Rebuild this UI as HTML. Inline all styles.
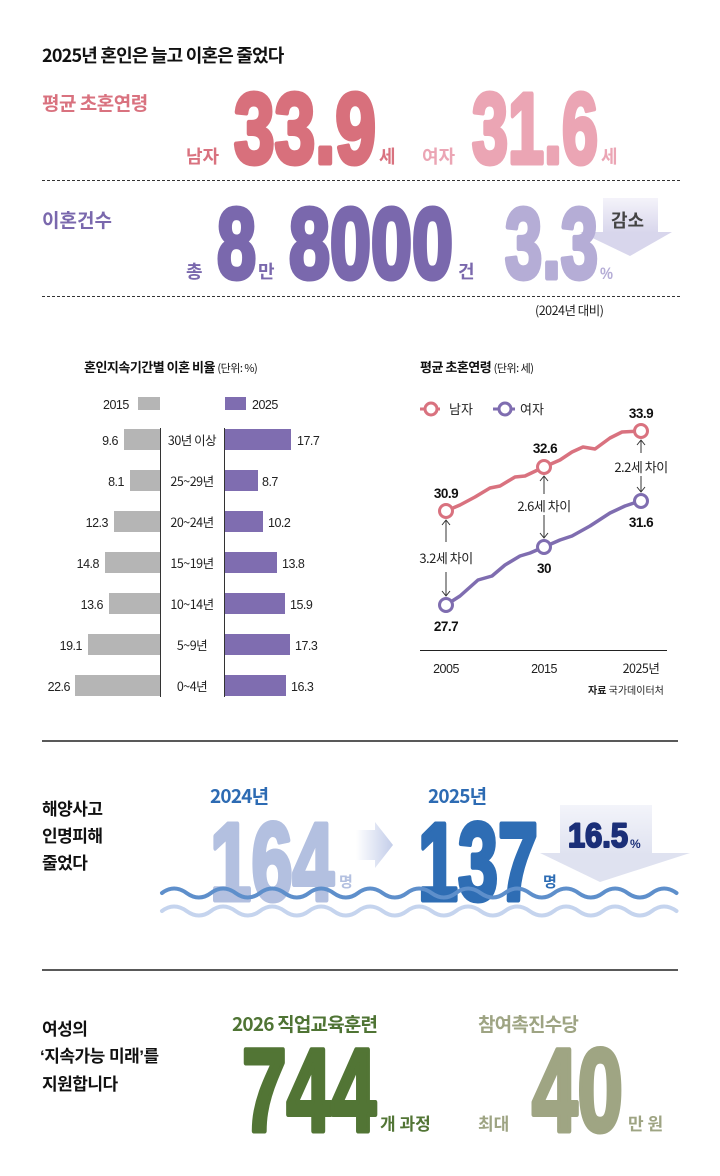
<!DOCTYPE html>
<html><head><meta charset="utf-8"><style>
html,body{margin:0;padding:0;background:#fff;}
svg{display:block;}
text{font-family:"Liberation Sans","Noto Sans CJK KR",sans-serif;}
.k{font-family:"Noto Sans CJK KR","Liberation Sans",sans-serif;}
.big{font-family:"Liberation Sans",sans-serif;font-weight:bold;stroke-width:5;stroke-linejoin:round;}
</style></head><body>
<svg width="720" height="1176" viewBox="0 0 720 1176" xmlns="http://www.w3.org/2000/svg">
<defs>
<linearGradient id="ga" x1="0" y1="1" x2="0" y2="0"><stop offset="0" stop-color="#d8d6ec"/><stop offset="1" stop-color="#f4f3fa"/></linearGradient>
<linearGradient id="gb" x1="0" y1="1" x2="0" y2="0"><stop offset="0" stop-color="#dfe2f0"/><stop offset="1" stop-color="#f3f4fa"/></linearGradient>
<linearGradient id="gc" x1="0" y1="0" x2="1" y2="0"><stop offset="0" stop-color="#ffffff"/><stop offset="1" stop-color="#c3cde9"/></linearGradient>
</defs>

<text x="42" y="62" class="k" font-size="18" font-weight="bold" fill="#111" letter-spacing="-0.8">2025년 혼인은 늘고 이혼은 줄었다</text>

<text x="42" y="110" class="k" font-size="19" font-weight="bold" fill="#d9727f" letter-spacing="-0.5">평균 초혼연령</text>
<text x="186" y="163" class="k" font-size="18" font-weight="bold" fill="#d9727f">남자</text>
<text x="234" y="163" class="big" font-size="100" fill="#d8707c" stroke="#d8707c" textLength="142" lengthAdjust="spacingAndGlyphs">33.9</text>
<text x="379" y="163" class="k" font-size="18" font-weight="bold" fill="#d9727f">세</text>
<text x="422" y="163" class="k" font-size="18" font-weight="bold" fill="#eba5b4">여자</text>
<text x="472" y="163" class="big" font-size="100" fill="#eba5b4" stroke="#eba5b4" textLength="126" lengthAdjust="spacingAndGlyphs">31.6</text>
<text x="601" y="163" class="k" font-size="18" font-weight="bold" fill="#eba5b4">세</text>
<line x1="42" y1="180.5" x2="680" y2="180.5" stroke="#333" stroke-width="1" stroke-dasharray="3,2"/>

<text x="42" y="227" class="k" font-size="19" font-weight="bold" fill="#7a68ad">이혼건수</text>
<text x="186" y="278" class="k" font-size="18" font-weight="bold" fill="#7a68ad">총</text>
<text x="217" y="278" class="big" font-size="100" fill="#7a68ad" stroke="#7a68ad" textLength="39" lengthAdjust="spacingAndGlyphs">8</text>
<text x="258" y="278" class="k" font-size="18" font-weight="bold" fill="#7a68ad">만</text>
<text x="289" y="278" class="big" font-size="100" fill="#7a68ad" stroke="#7a68ad" textLength="164" lengthAdjust="spacingAndGlyphs">8000</text>
<text x="458" y="278" class="k" font-size="18" font-weight="bold" fill="#7a68ad">건</text>
<rect x="603" y="198" width="55" height="35" fill="url(#ga)"/>
<polygon points="580,232 672,232 630,256" fill="#d8d6ec"/>
<text x="505" y="278" class="big" font-size="100" fill="#b5add6" stroke="#b5add6" textLength="93" lengthAdjust="spacingAndGlyphs">3.3</text>
<text x="600" y="279" class="big" font-size="17" fill="#b5add6" stroke="none" textLength="13" lengthAdjust="spacingAndGlyphs">%</text>
<text x="611" y="227" class="k" font-size="18" font-weight="bold" fill="#444">감소</text>
<line x1="42" y1="296.5" x2="680" y2="296.5" stroke="#333" stroke-width="1" stroke-dasharray="3,2"/>
<text x="535" y="315" class="k" font-size="12.5" fill="#222" letter-spacing="-0.5">(2024년 대비)</text>

<text x="84" y="372" class="k" font-size="13" font-weight="bold" fill="#111" letter-spacing="-0.5">혼인지속기간별 이혼 비율 <tspan font-weight="normal" font-size="11">(단위: %)</tspan></text>
<text x="103" y="409" font-size="12.5" fill="#222" letter-spacing="-0.5">2015</text>
<rect x="138" y="397" width="22" height="13" fill="#b5b5b5"/>
<rect x="225" y="397" width="21" height="13" fill="#7f6db0"/>
<text x="252" y="409" font-size="12.5" fill="#222" letter-spacing="-0.5">2025</text>
<line x1="160.5" y1="428" x2="160.5" y2="697" stroke="#333" stroke-width="1"/>
<line x1="224.5" y1="428" x2="224.5" y2="697" stroke="#333" stroke-width="1"/>
<g font-size="12.5" fill="#222" letter-spacing="-0.5">
<rect x="124" y="429" width="36" height="21" fill="#b5b5b5"/><rect x="225" y="429" width="66" height="21" fill="#7f6db0"/>
<text x="118" y="445" text-anchor="end">9.6</text><text x="297" y="445">17.7</text><text x="192" y="445" text-anchor="middle" class="k">30년 이상</text>
<rect x="130" y="470" width="30" height="21" fill="#b5b5b5"/><rect x="225" y="470" width="33" height="21" fill="#7f6db0"/>
<text x="124" y="486" text-anchor="end">8.1</text><text x="262" y="486">8.7</text><text x="192" y="486" text-anchor="middle" class="k">25~29년</text>
<rect x="114" y="511" width="46" height="21" fill="#b5b5b5"/><rect x="225" y="511" width="38" height="21" fill="#7f6db0"/>
<text x="108" y="527" text-anchor="end">12.3</text><text x="268" y="527">10.2</text><text x="192" y="527" text-anchor="middle" class="k">20~24년</text>
<rect x="105" y="552" width="55" height="21" fill="#b5b5b5"/><rect x="225" y="552" width="52" height="21" fill="#7f6db0"/>
<text x="99" y="568" text-anchor="end">14.8</text><text x="282" y="568">13.8</text><text x="192" y="568" text-anchor="middle" class="k">15~19년</text>
<rect x="109" y="593" width="51" height="21" fill="#b5b5b5"/><rect x="225" y="593" width="60" height="21" fill="#7f6db0"/>
<text x="103" y="609" text-anchor="end">13.6</text><text x="290" y="609">15.9</text><text x="192" y="609" text-anchor="middle" class="k">10~14년</text>
<rect x="88" y="634" width="72" height="21" fill="#b5b5b5"/><rect x="225" y="634" width="65" height="21" fill="#7f6db0"/>
<text x="82" y="650" text-anchor="end">19.1</text><text x="295" y="650">17.3</text><text x="192" y="650" text-anchor="middle" class="k">5~9년</text>
<rect x="75" y="675" width="85" height="21" fill="#b5b5b5"/><rect x="225" y="675" width="61" height="21" fill="#7f6db0"/>
<text x="70" y="691" text-anchor="end">22.6</text><text x="291" y="691">16.3</text><text x="192" y="691" text-anchor="middle" class="k">0~4년</text>
</g>

<text x="420" y="372" class="k" font-size="13" font-weight="bold" fill="#111" letter-spacing="-0.5">평균 초혼연령 <tspan font-weight="normal" font-size="11">(단위: 세)</tspan></text>
<line x1="420" y1="409" x2="440" y2="409" stroke="#d9727f" stroke-width="3"/>
<circle cx="431" cy="409" r="6" fill="#fff" stroke="#d9727f" stroke-width="3"/>
<text x="449" y="414" class="k" font-size="13" fill="#222">남자</text>
<line x1="493" y1="409" x2="515" y2="409" stroke="#7f6db0" stroke-width="3"/>
<circle cx="505" cy="409" r="6" fill="#fff" stroke="#7f6db0" stroke-width="3"/>
<text x="520" y="414" class="k" font-size="13" fill="#222">여자</text>
<polyline fill="none" stroke="#d9727f" stroke-width="3.5" stroke-linejoin="round" points="446,511 460,505 475,497 490,488 500,486 515,477 525,476 544,467 560,460 572,452 583,447 595,449 610,438 622,432 640,431"/>
<polyline fill="none" stroke="#7f6db0" stroke-width="3.5" stroke-linejoin="round" points="446,605 460,596 478,580 492,576 505,565 520,556 530,553 544,547 560,540 572,536 590,526 610,513 625,506 640,501"/>
<g fill="#fff" stroke-width="3">
<circle cx="446" cy="511" r="6.5" stroke="#d9727f"/><circle cx="544" cy="467" r="6.5" stroke="#d9727f"/><circle cx="641" cy="431" r="6.5" stroke="#d9727f"/>
<circle cx="446" cy="605" r="6.5" stroke="#7f6db0"/><circle cx="544" cy="547" r="6.5" stroke="#7f6db0"/><circle cx="641" cy="501" r="6.5" stroke="#7f6db0"/>
</g>
<g stroke="#333" stroke-width="1" fill="none">
<line x1="446" y1="520" x2="446" y2="542"/><polyline points="442,525 446,520 450,525"/>
<line x1="446" y1="572" x2="446" y2="596"/><polyline points="442,591 446,596 450,591"/>
<line x1="544" y1="476" x2="544" y2="494"/><polyline points="540,481 544,476 548,481"/>
<line x1="544" y1="515" x2="544" y2="538"/><polyline points="540,533 544,538 548,533"/>
<line x1="641" y1="440" x2="641" y2="453"/><polyline points="637,445 641,440 645,445"/>
<line x1="641" y1="476" x2="641" y2="492"/><polyline points="637,487 641,492 645,487"/>
</g>
<g font-size="13" fill="#222" text-anchor="middle" letter-spacing="-0.5">
<text x="446" y="563" class="k">3.2세 차이</text>
<text x="544" y="511" class="k">2.6세 차이</text>
<text x="641" y="472" class="k">2.2세 차이</text>
</g>
<g font-size="13.5" font-weight="bold" fill="#111" text-anchor="middle" letter-spacing="-0.5">
<text x="446" y="498">30.9</text><text x="545" y="453">32.6</text><text x="641" y="418">33.9</text>
<text x="446" y="631">27.7</text><text x="544" y="573">30</text><text x="641" y="527">31.6</text>
</g>
<line x1="420" y1="650.5" x2="667" y2="650.5" stroke="#222" stroke-width="1"/>
<g font-size="12.5" fill="#222" text-anchor="middle" letter-spacing="-0.5">
<text x="446" y="673">2005</text><text x="544" y="673">2015</text><text x="641" y="673" class="k">2025년</text>
</g>
<text x="588" y="694" class="k" font-size="10" fill="#222"><tspan font-weight="bold">자료</tspan> 국가데이터처</text>

<line x1="42" y1="741" x2="678" y2="741" stroke="#222" stroke-width="1.5"/>

<g class="k" font-size="17" font-weight="bold" fill="#111" letter-spacing="-0.5">
<text x="42" y="815">해양사고</text><text x="42" y="842">인명피해</text><text x="42" y="869">줄었다</text>
</g>
<text x="210" y="803" class="k" font-size="19" font-weight="bold" fill="#2d6bb3" letter-spacing="-0.8">2024년</text>
<text x="428" y="803" class="k" font-size="19" font-weight="bold" fill="#2d6bb3" letter-spacing="-0.8">2025년</text>
<text x="210" y="900" class="big" font-size="110" fill="#b3c0e0" stroke="#b3c0e0" textLength="124" lengthAdjust="spacingAndGlyphs">164</text>
<text x="339" y="887" class="k" font-size="15" font-weight="bold" fill="#b3c0e0">명</text>
<polygon points="356,830 375,830 375,822 393,845 375,868 375,860 356,860" fill="url(#gc)"/>
<rect x="560" y="805" width="92" height="50" fill="url(#gb)"/>
<polygon points="540,853 690,853 600,882" fill="#dfe2f0"/>
<text x="418" y="900" class="big" font-size="110" fill="#2e6db4" stroke="#2e6db4" textLength="120" lengthAdjust="spacingAndGlyphs">137</text>
<text x="543" y="887" class="k" font-size="15" font-weight="bold" fill="#2e6db4">명</text>
<text x="568" y="847" class="big" font-size="34" fill="#1b2f78" stroke="#1b2f78" style="stroke-width:2" textLength="60" lengthAdjust="spacingAndGlyphs">16.5</text>
<text x="630" y="848" class="big" font-size="12" fill="#1b2f78" stroke="none">%</text>
<path d="M162,893 q12,-9 24.5,0 t24.5,0 t24.5,0 t24.5,0 t24.5,0 t24.5,0 t24.5,0 t24.5,0 t24.5,0 t24.5,0 t24.5,0 t24.5,0 t24.5,0 t24.5,0 t24.5,0 t24.5,0 t24.5,0 t24.5,0 t24.5,0 t24.5,0 t24.5,0" fill="none" stroke="#5e8fcb" stroke-width="4" stroke-linecap="round"/>
<path d="M162,911 q12,-9 24.5,0 t24.5,0 t24.5,0 t24.5,0 t24.5,0 t24.5,0 t24.5,0 t24.5,0 t24.5,0 t24.5,0 t24.5,0 t24.5,0 t24.5,0 t24.5,0 t24.5,0 t24.5,0 t24.5,0 t24.5,0 t24.5,0 t24.5,0 t24.5,0" fill="none" stroke="#c5d4ee" stroke-width="4" stroke-linecap="round"/>

<line x1="42" y1="970" x2="678" y2="970" stroke="#222" stroke-width="1.5"/>

<g class="k" font-size="17" font-weight="bold" fill="#111" letter-spacing="-0.5">
<text x="42" y="1035">여성의</text><text x="40" y="1062">‘지속가능 미래’를</text><text x="42" y="1090">지원합니다</text>
</g>
<text x="232" y="1031" class="k" font-size="19" font-weight="bold" fill="#4f7434" letter-spacing="-0.8">2026 직업교육훈련</text>
<text x="242" y="1131" class="big" font-size="118" fill="#527535" stroke="#527535" textLength="134" lengthAdjust="spacingAndGlyphs">744</text>
<text x="380" y="1130" class="k" font-size="17" font-weight="bold" fill="#527535">개 과정</text>
<text x="478" y="1031" class="k" font-size="19" font-weight="bold" fill="#9ea483" letter-spacing="-0.8">참여촉진수당</text>
<text x="478" y="1130" class="k" font-size="17" font-weight="bold" fill="#9ea483">최대</text>
<text x="532" y="1131" class="big" font-size="118" fill="#9fa583" stroke="#9fa583" textLength="91" lengthAdjust="spacingAndGlyphs">40</text>
<text x="628" y="1130" class="k" font-size="17" font-weight="bold" fill="#9ea483">만 원</text>
</svg>
</body></html>
